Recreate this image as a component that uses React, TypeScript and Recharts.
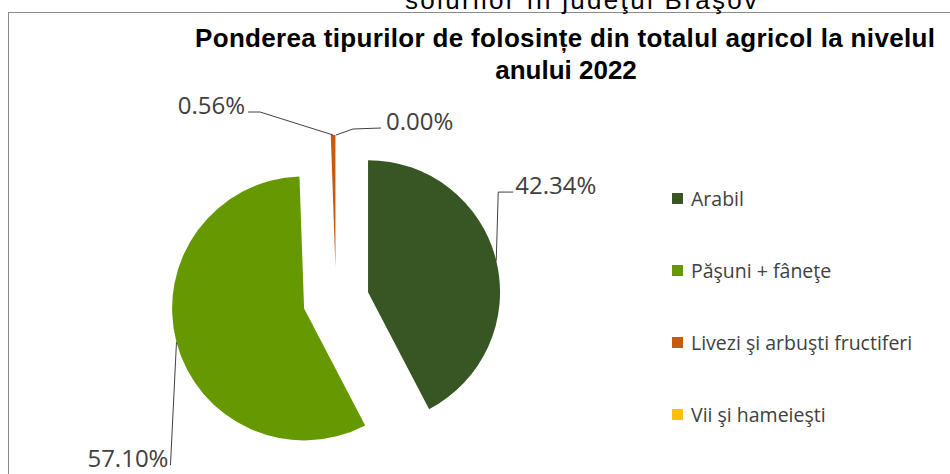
import { PieChart, Pie, Cell, Sector, Legend } from 'recharts'

const categories = ['Arabil', 'Păşuni + fâneţe', 'Livezi şi arbuşti fructiferi', 'Vii şi hameieşti']
const shares = [42.34, 57.1, 0.56, 0.0]
const colors = ['#375623', '#669900', '#C55A11', '#FFC000']

const title = ['Ponderea tipurilor de folosințe din totalul agricol la nivelul', 'anului 2022']
const pageHeading = 'solurilor  în judeţul  Braşov'

const data = categories.map((name, i) => ({ name, value: shares[i] }))

const RADIAN = Math.PI / 180
const EXPLODE = 33
const TEXT = '#404040'

// leader lines, relative to the outer arc midpoint of each (exploded) slice
const labelLayout = [
  { bend: [2, -68.6], end: [17, -68.6], tx: 19, anchor: 'start' },
  { bend: [-6, 123], end: [-6, 123], tx: -8, anchor: 'end' },
  { bend: [-73, -23], end: [-85, -23], tx: -88, anchor: 'end' },
  { bend: [17, -6], end: [45, -7], tx: 50, anchor: 'start' },
]

function explodeOffset(midAngle: number) {
  return [EXPLODE * Math.cos(-midAngle * RADIAN), EXPLODE * Math.sin(-midAngle * RADIAN)]
}

function ExplodedSector(props: any) {
  const [dx, dy] = explodeOffset(props.midAngle)
  return <Sector {...props} cx={props.cx + dx} cy={props.cy + dy} />
}

function renderLabel(props: any) {
  const { cx, cy, midAngle, outerRadius, index, value } = props
  const layout = labelLayout[index]
  if (!layout) return null
  const [dx, dy] = explodeOffset(midAngle)
  const ax = cx + dx + outerRadius * Math.cos(-midAngle * RADIAN)
  const ay = cy + dy + outerRadius * Math.sin(-midAngle * RADIAN)
  const pts = [
    [ax, ay],
    [ax + layout.bend[0], ay + layout.bend[1]],
    [ax + layout.end[0], ay + layout.end[1]],
  ]
  return (
    <g key={`lbl-${index}`}>
      <polyline points={pts.map((p) => p.join(',')).join(' ')} fill="none" stroke="#404040" strokeWidth={1} />
      <text
        x={ax + layout.tx}
        y={ay + layout.end[1] + 2}
        textAnchor={layout.anchor as any}
        fill={TEXT}
        fontSize={24}
        fontFamily="'Open Sans', sans-serif"
      >
        {`${Number(value).toFixed(2)}%`}
      </text>
    </g>
  )
}

function renderLegend(props: any) {
  const items = [...(props.payload || [])].sort(
    (a: any, b: any) => categories.indexOf(a.value) - categories.indexOf(b.value)
  )
  return (
    <div>
      {items.map((entry: any, i: number) => (
        <div key={i} style={{ display: 'flex', alignItems: 'center', height: 72 }}>
          <span style={{ width: 11, height: 11, background: entry.color, marginRight: 8, display: 'inline-block' }} />
          <span style={{ fontFamily: "'Open Sans', sans-serif", fontSize: 19.5, color: TEXT }}>{entry.value}</span>
        </div>
      ))}
    </div>
  )
}

export default function App() {
  return (
    <div style={{ position: 'absolute', left: 0, top: 0, width: 950, height: 474, overflow: 'hidden', background: '#fff' }}>
      <div
        style={{
          position: 'absolute',
          left: 8,
          top: 12,
          width: 1000,
          height: 600,
          border: '1px solid #8a8a8a',
          boxSizing: 'border-box',
        }}
      />
      <svg width={950} height={474} style={{ position: 'absolute', left: 0, top: 0 }}>
        <text x={581} y={9} textAnchor="middle" fontFamily="'Liberation Sans', Arial, sans-serif" fontSize={26} fill="#000" textLength={352}>
          {pageHeading}
        </text>
        <text x={565} y={47} textAnchor="middle" fontFamily="'Liberation Sans', Arial, sans-serif" fontWeight="bold" fontSize={26} fill="#000" textLength={740}>
          {title[0]}
        </text>
        <text x={566} y={79} textAnchor="middle" fontFamily="'Liberation Sans', Arial, sans-serif" fontWeight="bold" fontSize={26} fill="#000">
          {title[1]}
        </text>
      </svg>
      <div style={{ position: 'absolute', left: 0, top: 0 }}>
        <PieChart width={950} height={474} margin={{ top: 0, right: 0, bottom: 0, left: 0 }}>
          <Pie
            data={data}
            dataKey="value"
            nameKey="name"
            cx={336}
            cy={300}
            outerRadius={132}
            startAngle={90}
            endAngle={-270}
            stroke="none"
            shape={ExplodedSector}
            label={renderLabel}
            labelLine={false}
            isAnimationActive={false}
          >
            {data.map((d, i) => (
              <Cell key={d.name} fill={colors[i]} />
            ))}
          </Pie>
          <Legend
            layout="vertical"
            align="right"
            verticalAlign="top"
            content={renderLegend}
            wrapperStyle={{ left: 672, top: 162, width: 270 }}
          />
        </PieChart>
      </div>
    </div>
  )
}
